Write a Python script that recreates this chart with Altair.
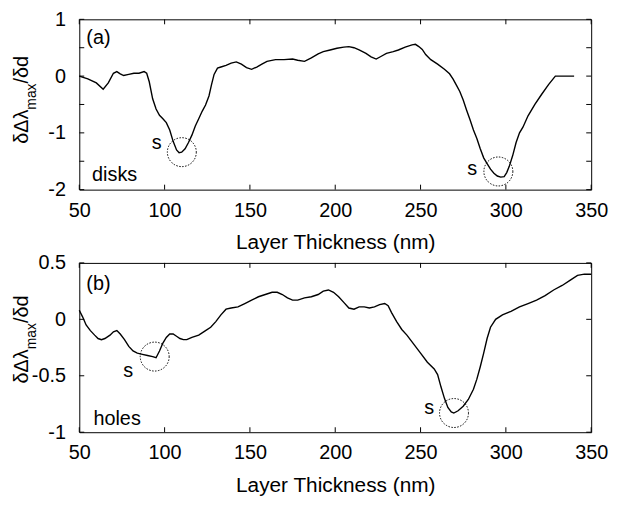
import altair as alt
import pandas as pd

# ---------------- data ----------------
top_x = [50, 55, 60, 64, 67, 70, 72, 74, 76, 79, 82, 85, 88, 89.5, 91, 93, 95, 97, 99, 101,
         103, 105, 107, 108.5, 110, 112, 114, 116, 118, 120, 122, 124, 126, 127.5, 129, 131,
         133, 136, 139, 142, 145, 148, 151, 154, 157, 160, 165, 170, 175, 178, 182, 186, 190,
         193, 197, 201, 205, 208, 211, 214, 218, 221, 224, 227, 230, 234, 237, 241, 245, 247,
         249, 251, 253, 256, 260, 264, 267, 269, 271, 273, 275, 277, 279, 281, 283, 285, 287,
         289, 291, 293, 295, 297, 299, 300.5, 302, 304, 306, 308, 310, 313, 317, 321, 325, 329,
         334, 340]
top_y = [0.00, -0.05, -0.12, -0.23, -0.12, 0.05, 0.08, 0.04, 0.01, 0.03, 0.05, 0.05, 0.08, 0.05,
         -0.10, -0.40, -0.58, -0.69, -0.75, -0.82, -0.95, -1.15, -1.30, -1.35, -1.34, -1.28,
         -1.17, -1.04, -0.88, -0.75, -0.62, -0.51, -0.35, -0.15, 0.03, 0.14, 0.16, 0.19, 0.23,
         0.25, 0.21, 0.15, 0.12, 0.16, 0.21, 0.26, 0.29, 0.29, 0.30, 0.28, 0.26, 0.32, 0.39,
         0.43, 0.46, 0.49, 0.51, 0.52, 0.50, 0.46, 0.40, 0.34, 0.30, 0.35, 0.40, 0.43, 0.46,
         0.51, 0.55, 0.56, 0.52, 0.47, 0.38, 0.29, 0.21, 0.12, 0.04, -0.05, -0.16, -0.27, -0.42,
         -0.60, -0.77, -0.95, -1.10, -1.28, -1.44, -1.54, -1.64, -1.71, -1.76, -1.78, -1.77,
         -1.70, -1.59, -1.40, -1.17, -1.00, -0.90, -0.70, -0.50, -0.32, -0.15, 0.00, 0.00, 0.00]

bot_x = [50, 52, 54, 56.5, 59, 61, 63, 65, 68, 70, 72, 74, 76.5, 79, 81.5, 84, 87, 90, 93, 95,
         97, 99, 101, 103, 105, 107, 109, 111, 113, 116, 120, 124, 127, 130, 133, 136, 139, 143,
         147, 151, 155, 159, 163, 166, 169, 172, 175, 178, 182, 186, 190, 193, 196, 199, 202,
         205, 208, 211, 214, 217, 220, 223, 226, 229, 231, 233, 236, 239, 242, 246, 250, 254,
         258, 260, 262, 264, 266, 268, 269.5, 272, 275, 278, 281, 283, 285, 287, 289, 291, 294,
         298, 303, 308, 313, 318, 323, 328, 333, 338, 342, 346, 350]
bot_y = [0.08, 0.02, -0.05, -0.10, -0.14, -0.17, -0.18, -0.17, -0.14, -0.11, -0.10, -0.13, -0.18,
         -0.24, -0.28, -0.30, -0.31, -0.32, -0.33, -0.34, -0.28, -0.21, -0.16, -0.13, -0.13,
         -0.15, -0.17, -0.18, -0.18, -0.16, -0.14, -0.10, -0.07, -0.02, 0.04, 0.09, 0.10, 0.11,
         0.14, 0.17, 0.20, 0.22, 0.24, 0.24, 0.22, 0.19, 0.17, 0.17, 0.19, 0.20, 0.22, 0.25,
         0.26, 0.24, 0.20, 0.15, 0.10, 0.09, 0.11, 0.11, 0.10, 0.11, 0.13, 0.14, 0.12, 0.06,
         -0.02, -0.09, -0.14, -0.22, -0.30, -0.38, -0.44, -0.49, -0.60, -0.70, -0.78, -0.82,
         -0.83, -0.81, -0.77, -0.71, -0.62, -0.53, -0.42, -0.30, -0.17, -0.07, 0.00, 0.04, 0.07,
         0.11, 0.14, 0.17, 0.21, 0.26, 0.30, 0.35, 0.39, 0.40, 0.40]

x_ticks = [50, 100, 150, 200, 250, 300, 350]
top_y_labels = [-2, -1, 0, 1]
top_y_ticks = [-2, -1.5, -1, -0.5, 0, 0.5, 1]
bot_y_labels = [-1, -0.5, 0, 0.5]
bot_y_ticks = [-1, -0.5, 0, 0.5]

top_circle_x = [110.1, 295.6]
top_circle_y = [-1.34, -1.68]
bot_circle_x = [94.2, 269.6]
bot_circle_y = [-0.33, -0.83]

top_s_x = [95.4, 280.3]
top_s_y = [-1.18, -1.63]
bot_s_x = [78.6, 255.0]
bot_s_y = [-0.46, -0.79]

top_labels = ["(a)", "disks"]
top_labels_x = [54.1, 57.5]
top_labels_y = [0.67, -1.75]
bot_labels = ["(b)", "holes"]
bot_labels_x = [54.1, 58.3]
bot_labels_y = [0.31, -0.88]

ytitle_pieces = ["δΔλ", "max", "/δd"]
x_title = "Layer Thickness (nm)"

FONT = "Liberation Sans"
W = 517


def panel(xs_, ys_, ydom, ylabels, yticks, H, cx, cy, sx, sy, lab, lx, ly, ytitle_start):
    xs = alt.Scale(domain=[50, 350], nice=False, zero=False)
    ys = alt.Scale(domain=ydom, nice=False, zero=False)
    xa = alt.Axis(values=x_ticks, title=x_title, labelExpr="toString(datum.value)",
                  labelPadding=11, titleY=42.5, titleBaseline="top",
                  labelFlush=False, labelOverlap=False, labelBound=False)
    ya = alt.Axis(values=ylabels, title=None, labelExpr="toString(datum.value)",
                  labelPadding=14, labelFlush=False, labelOverlap=False, labelBound=False)

    def X(f):
        return alt.X(f, scale=xs, axis=xa)

    def Y(f):
        return alt.Y(f, scale=ys, axis=ya)

    df = pd.DataFrame({"x": xs_, "y": ys_})
    line = alt.Chart(df).mark_line(color="black", strokeWidth=1.4).encode(
        x=X("x:Q"), y=Y("y:Q"))
    xt = pd.DataFrame({"x": x_ticks})
    yt = pd.DataFrame({"y": yticks})
    tb = alt.Chart(xt).mark_rule(color="black", strokeWidth=1).encode(
        x=X("x:Q"), y=alt.value(H), y2=alt.value(H - 5))
    tt = alt.Chart(xt).mark_rule(color="black", strokeWidth=1).encode(
        x=X("x:Q"), y=alt.value(0), y2=alt.value(5))
    tl = alt.Chart(yt).mark_rule(color="black", strokeWidth=1).encode(
        y=Y("y:Q"), x=alt.value(0), x2=alt.value(5))
    tr = alt.Chart(yt).mark_rule(color="black", strokeWidth=1).encode(
        y=Y("y:Q"), x=alt.value(W - 5), x2=alt.value(W))

    circ = alt.Chart(pd.DataFrame({"x": cx, "y": cy})).mark_point(
        shape="circle", size=855, filled=False, color="black", strokeWidth=1,
        strokeDash=[1.5, 1.5], opacity=1).encode(x=X("x:Q"), y=Y("y:Q"))
    s_txt = alt.Chart(pd.DataFrame({"x": sx, "y": sy, "t": ["s"] * len(sx)})).mark_text(
        font=FONT, fontSize=20, color="black", align="center", baseline="middle").encode(
        x=X("x:Q"), y=Y("y:Q"), text="t:N")
    l_txt = alt.Chart(pd.DataFrame({"x": lx, "y": ly, "t": lab})).mark_text(
        font=FONT, fontSize=20, color="black", align="left", baseline="middle").encode(
        x=X("x:Q"), y=Y("y:Q"), text="t:N")

    # y title built from pieces (subscript "max")
    w1 = 34.5
    w2 = 26.4
    t1 = alt.Chart(pd.DataFrame({"t": [ytitle_pieces[0]]})).mark_text(
        font=FONT, fontSize=20, color="black", angle=270, align="left",
        baseline="alphabetic").encode(x=alt.value(-52), y=alt.value(ytitle_start), text="t:N")
    t2 = alt.Chart(pd.DataFrame({"t": [ytitle_pieces[1]]})).mark_text(
        font=FONT, fontSize=14, color="black", angle=270, align="left",
        baseline="alphabetic").encode(x=alt.value(-44), y=alt.value(ytitle_start - w1), text="t:N")
    t3 = alt.Chart(pd.DataFrame({"t": [ytitle_pieces[2]]})).mark_text(
        font=FONT, fontSize=20, color="black", angle=270, align="left",
        baseline="alphabetic").encode(x=alt.value(-52), y=alt.value(ytitle_start - w1 - w2), text="t:N")

    return alt.layer(line, tb, tt, tl, tr, circ, s_txt, l_txt, t1, t2, t3).properties(
        width=W, height=H)


top = panel(top_x, top_y, [-2, 1], top_y_labels, top_y_ticks, 172,
            top_circle_x, top_circle_y, top_s_x, top_s_y,
            top_labels, top_labels_x, top_labels_y, 125.7)
bot = panel(bot_x, bot_y, [-1, 0.5], bot_y_labels, bot_y_ticks, 171,
            bot_circle_x, bot_circle_y, bot_s_x, bot_s_y,
            bot_labels, bot_labels_x, bot_labels_y, 121.7)

chart = alt.vconcat(top, bot, spacing=-1).properties(
    padding={"left": 3, "top": -2, "right": 0, "bottom": 0},
    background="white",
).configure_view(stroke="black", strokeWidth=1).configure_axis(
    grid=False, domain=False, ticks=False, tickSize=0,
    labelFont=FONT, labelFontSize=20, labelColor="black",
    titleFont=FONT, titleFontSize=21, titleColor="black", titleFontWeight="normal",
)

chart.save("out.html", embed_options={"renderer": "svg", "actions": False})
